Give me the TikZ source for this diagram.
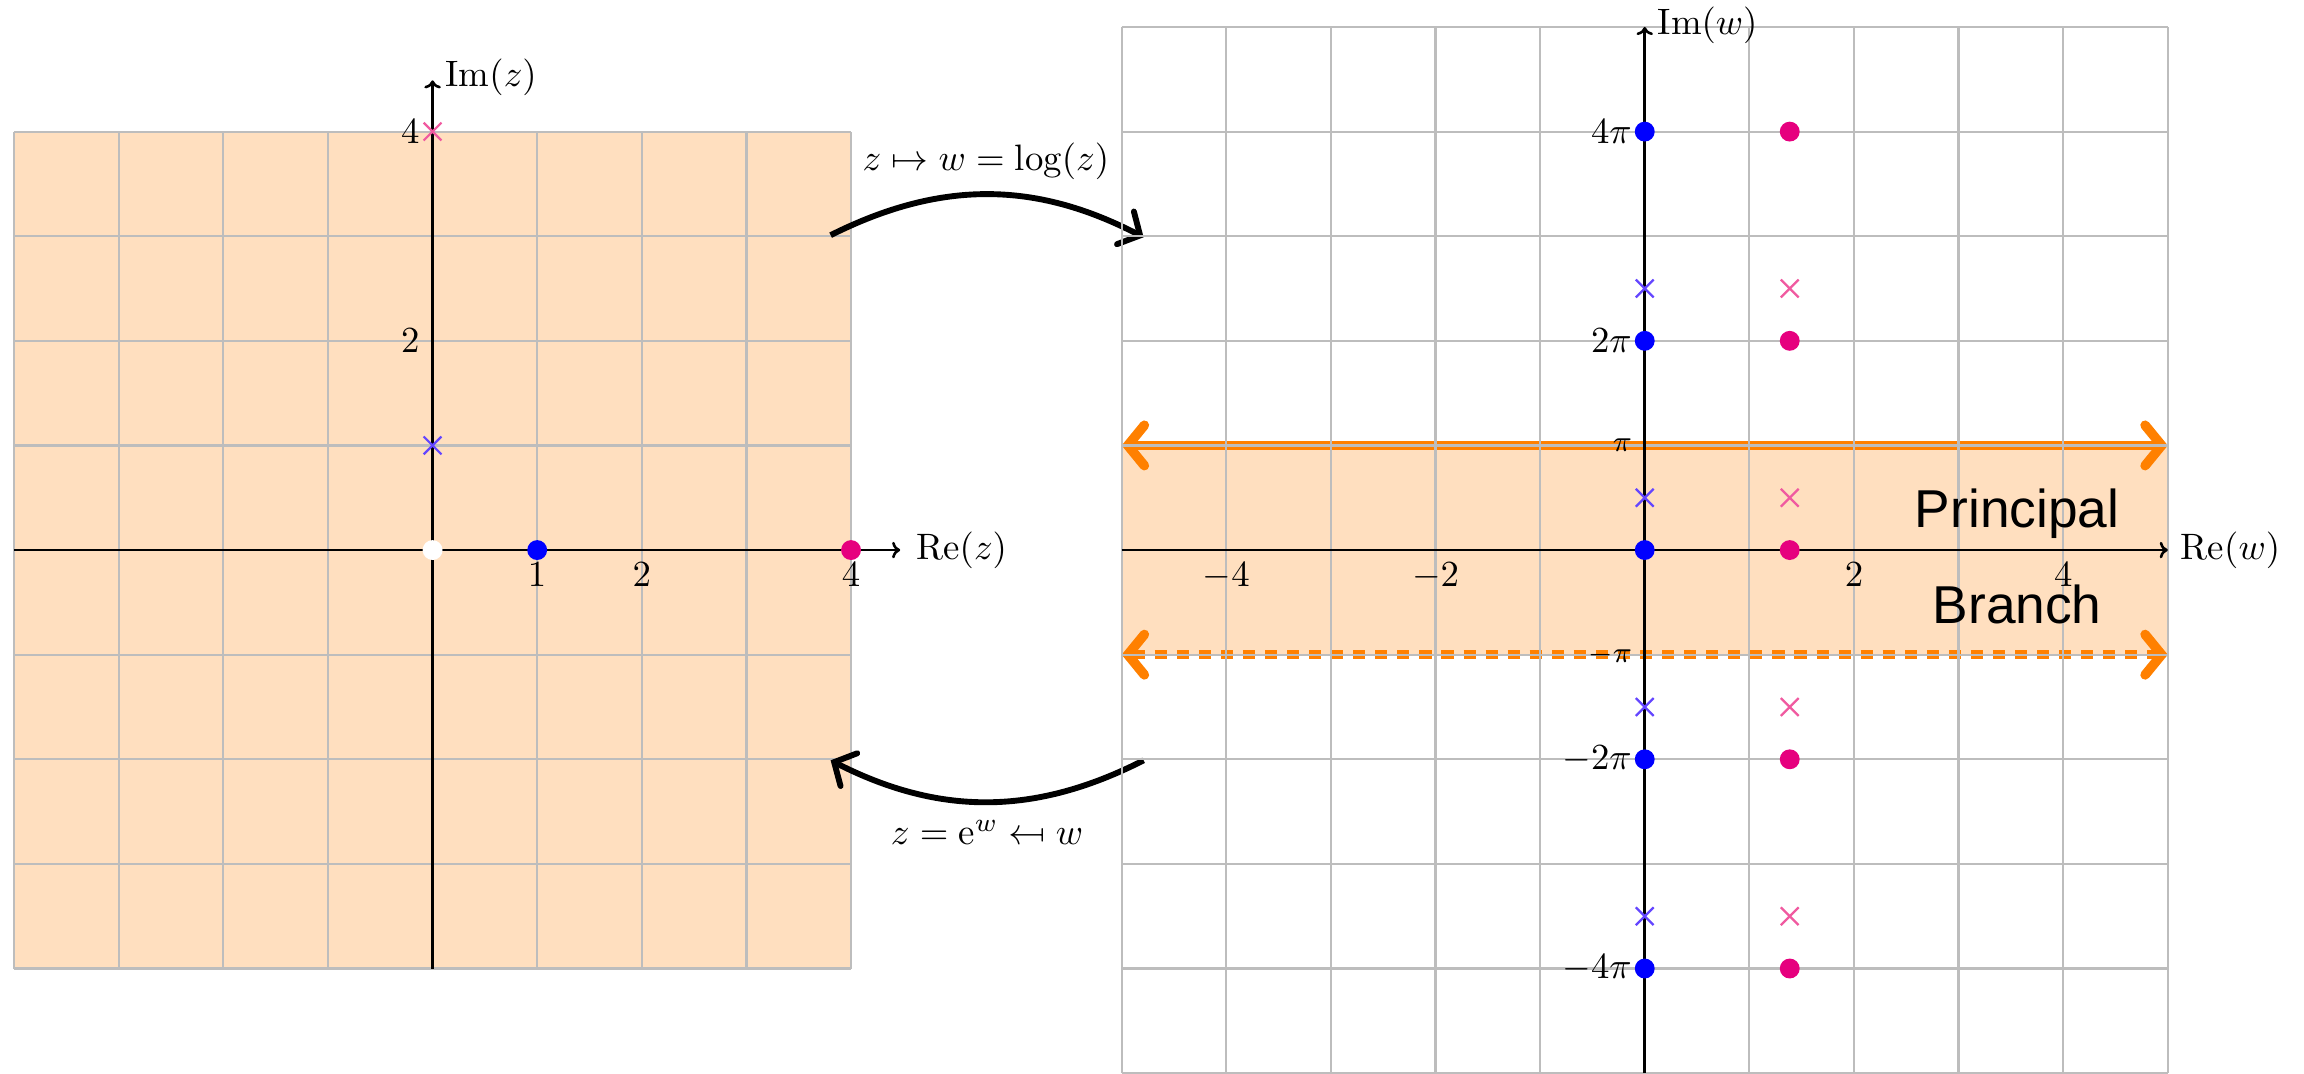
\documentclass[tikz,border=0pt]{standalone}
\usepackage{fontspec}
\usepackage{graphicx}
\newfontfamily\labelfont{Liberation Sans}
\usetikzlibrary{arrows.meta}
\definecolor{peach}{rgb}{1,0.875,0.75}
\definecolor{gridgray}{gray}{0.74}
\definecolor{dotmag}{RGB}{230,0,126}
\definecolor{crossmag}{RGB}{240,90,160}
\definecolor{crossblue}{RGB}{100,70,255}
\definecolor{branchorange}{RGB}{255,128,0}
\tikzset{
  gridline/.style={draw=gridgray, line width=0.6pt},
  axisline/.style={line width=0.7pt, -{To[length=2.2pt,width=4.5pt]}},
  cutline/.style={draw=branchorange, line width=2.6pt, {Straight Barb[length=4.5pt,width=11pt,line cap=round]}-{Straight Barb[length=4.5pt,width=11pt,line cap=round]}},
  maparrow/.style={line width=1.6pt, -{Straight Barb[length=4.5pt,width=10pt,line cap=round]}},
  ticklbl/.style={inner sep=0.333em},
  crossmark/.pic={\draw[line width=0.6pt] (-0.085,-0.085)--(0.085,0.085) (-0.085,0.085)--(0.085,-0.085);},
  branchtext/.style={font=\labelfont\fontsize{14.5}{17}\selectfont, anchor=base, inner sep=0pt}
}
\newcommand{\dotr}{0.095}
\begin{document}
\begin{tikzpicture}
\useasboundingbox (-4.135,-5.0) rectangle (17.889,5.258);

% ---------- z-plane ----------
\fill[peach] (-4,-4) rectangle (4,4);
\draw[gridline] (-4,-4) grid (4,4);
\draw[axisline] (-4,0) -- (4.47,0);
\draw[axisline] (0,-4) -- (0,4.49);
\node[anchor=west] (rez) at (4.5,0) {$\mathrm{Re}(z)$};
\node[anchor=west] (imz) at (0,4.52) {$\mathrm{Im}(z)$};
\node[ticklbl, anchor=north] (zx1) at (1,0) {$1$};
\node[ticklbl, anchor=north] (zx2) at (2,0) {$2$};
\node[ticklbl, anchor=north] (zx4) at (4,0) {$4$};
\node[ticklbl, anchor=east] (zy2) at (0,2) {$2$};
\node[ticklbl, anchor=east] (zy4) at (0,4) {$4$};
\fill[white] (0,0) circle (\dotr);
\fill[blue] (1,0) circle (\dotr);
\fill[dotmag] (4,0) circle (\dotr);
\pic[crossblue] at (0,1) {crossmark};
\pic[crossmag] at (0,4) {crossmark};

% ---------- mapping arrows ----------
\coordinate (zout) at (3.805,3.01);
\coordinate (win) at (6.797,2.99);
\coordinate (wout) at (6.797,-2.01);
\coordinate (zin) at (3.805,-2.01);
\draw[maparrow] (zout) to[bend left=27] (win);
\draw[maparrow] (wout) to[bend left=27] (zin);
\node (maplog) at (5.29,3.72) {$z\mapsto w=\log(z)$};
\node (mapexp) at (5.30,-2.70) {$z=\mathrm{e}^{w}\mathrel{\reflectbox{$\mapsto$}}w$};

% ---------- w-plane ----------
\begin{scope}[shift={(11.587,0)}]
\fill[peach] (-5,-1) rectangle (5,1);
\draw[cutline] (-5,1) -- (5,1);
\draw[cutline, dash pattern=on 3.3pt off 2.7pt] (-5,-1) -- (5,-1);
\draw[gridline] (-5,-5) grid (5,5);
\draw[axisline] (-5,0) -- (5,0);
\draw[axisline] (0,-5) -- (0,5);
\node[anchor=west] (rew) at (5.0,0) {$\mathrm{Re}(w)$};
\node[anchor=west] (imw) at (0,5.02) {$\mathrm{Im}(w)$};
\node[ticklbl, anchor=north] (wxm4) at (-4,0) {$-4$};
\node[ticklbl, anchor=north] (wxm2) at (-2,0) {$-2$};
\node[ticklbl, anchor=north] (wx2) at (2,0) {$2$};
\node[ticklbl, anchor=north] (wx4) at (4,0) {$4$};
\node[ticklbl, anchor=east] (wy4) at (0,4) {$4\pi$};
\node[ticklbl, anchor=east] (wy2) at (0,2) {$2\pi$};
\node[ticklbl, anchor=east, font=\footnotesize] (wy1) at (0,1) {$\pi$};
\node[ticklbl, anchor=east, font=\footnotesize] (wym1) at (0,-1) {$-\pi$};
\node[ticklbl, anchor=east] (wym2) at (0,-2) {$-2\pi$};
\node[ticklbl, anchor=east] (wym4) at (0,-4) {$-4\pi$};
\foreach \yy in {-4,-2,0,2,4} {
  \fill[blue] (0,\yy) circle (\dotr);
  \fill[dotmag] (1.386,\yy) circle (\dotr);
}
\foreach \yy in {-3.5,-1.5,0.5,2.5} {
  \pic[crossblue] at (0,\yy) {crossmark};
  \pic[crossmag] at (1.386,\yy) {crossmark};
}
\node[branchtext] (princ) at (3.56,0.22) {Principal};
\node[branchtext] (branch) at (3.56,-0.70) {Branch};
\end{scope}
\end{tikzpicture}
\end{document}
